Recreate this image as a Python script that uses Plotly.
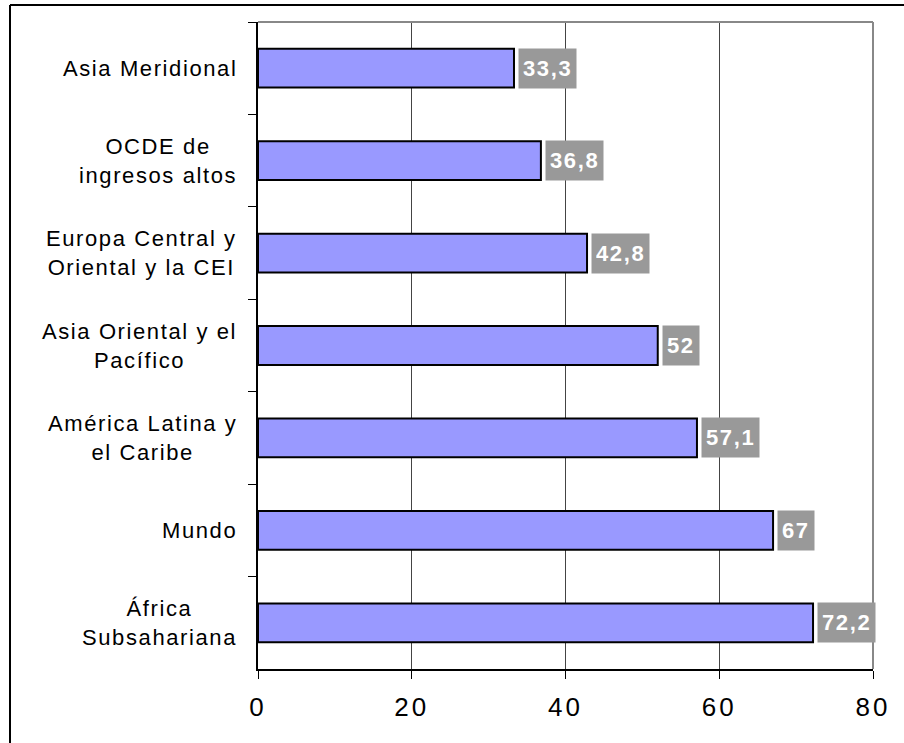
import plotly.graph_objects as go

# Regions, listed top to bottom as shown on the chart
categories = [
    "Asia Meridional",
    "OCDE de<br>ingresos altos",
    "Europa Central y<br>Oriental y la CEI",
    "Asia Oriental y el<br>Pacífico",
    "América Latina y<br>el Caribe",
    "Mundo",
    "África<br>Subsahariana",
]
values = [33.3, 36.8, 42.8, 52, 57.1, 67, 72.2]
value_labels = ["33,3", "36,8", "42,8", "52", "57,1", "67", "72,2"]
x_ticks = [0, 20, 40, 60, 80]

W, H = 904, 743
L, R, T, B = 258, 31, 22, 74
pw, ph = W - L - R, H - T - B

FONT = "Liberation Sans, Arial, sans-serif"


def spaced(text, px):
    """Wrap each line of a label in a letter-spaced span."""
    return "<br>".join(
        f'<span style="letter-spacing:{px}px">{line}</span>'
        for line in text.split("<br>")
    )


fig = go.Figure()
fig.add_trace(go.Bar(
    x=values,
    y=categories,
    orientation="h",
    width=0.42,
    marker=dict(color="#9999FF", line=dict(color="#000000", width=2)),
    hoverinfo="skip",
))

annotations = []
# value boxes to the right of each bar
for cat, v, lab in zip(categories, values, value_labels):
    annotations.append(dict(
        x=v, y=cat, xref="x", yref="y",
        text=f"<b>{spaced(lab, 1.6)}</b>", showarrow=False,
        xanchor="left", yanchor="middle", xshift=4,
        font=dict(family=FONT, size=22, color="white"),
        bgcolor="#999999", borderpad=4, height=31,
    ))
# category labels, centred as text blocks
for cat in categories:
    annotations.append(dict(
        x=0, y=cat, xref="paper", yref="y",
        text=spaced(cat, 1.6), showarrow=False,
        xanchor="right", yanchor="middle", xshift=-19,
        align="center",
        font=dict(family=FONT, size=22, color="black"),
    ))

shapes = [
    # plot area top and right borders
    dict(type="line", xref="paper", yref="paper", x0=0, x1=1, y0=1, y1=1,
         line=dict(color="#888888", width=2)),
    dict(type="line", xref="paper", yref="paper", x0=1, x1=1, y0=0, y1=1,
         line=dict(color="#888888", width=2)),
    # outer frame
    dict(type="line", xref="paper", yref="paper",
         x0=(10 - L) / pw, x1=(W + 10 - L) / pw,
         y0=(H - B - 5) / ph, y1=(H - B - 5) / ph,
         line=dict(color="black", width=2)),
    dict(type="line", xref="paper", yref="paper",
         x0=(10 - L) / pw, x1=(10 - L) / pw,
         y0=(H - B - 5) / ph, y1=(H - B - H - 10) / ph,
         line=dict(color="black", width=2)),
]

fig.update_layout(
    width=W, height=H,
    margin=dict(l=L, r=R, t=T, b=B, pad=0),
    paper_bgcolor="white", plot_bgcolor="white",
    showlegend=False,
    annotations=annotations,
    shapes=shapes,
    font=dict(family=FONT, color="black"),
    xaxis=dict(
        range=[0, 80], tickvals=x_ticks,
        ticktext=[spaced(str(t), 3) for t in x_ticks],
        showgrid=True, gridcolor="#444444", gridwidth=1,
        zeroline=False, showline=True, linecolor="black", linewidth=2,
        ticks="outside", ticklen=8, tickcolor="black", tickwidth=1,
        ticklabelstandoff=6,
        tickfont=dict(family=FONT, size=26, color="black"),
        fixedrange=True,
    ),
    yaxis=dict(
        type="category", categoryorder="array", categoryarray=categories,
        autorange="reversed",
        showticklabels=False, tickson="boundaries",
        ticks="outside", ticklen=8, tickcolor="black", tickwidth=1,
        showgrid=False, zeroline=False,
        showline=True, linecolor="black", linewidth=2,
        fixedrange=True,
    ),
)

fig.write_html("out.html", config={"displayModeBar": False})
